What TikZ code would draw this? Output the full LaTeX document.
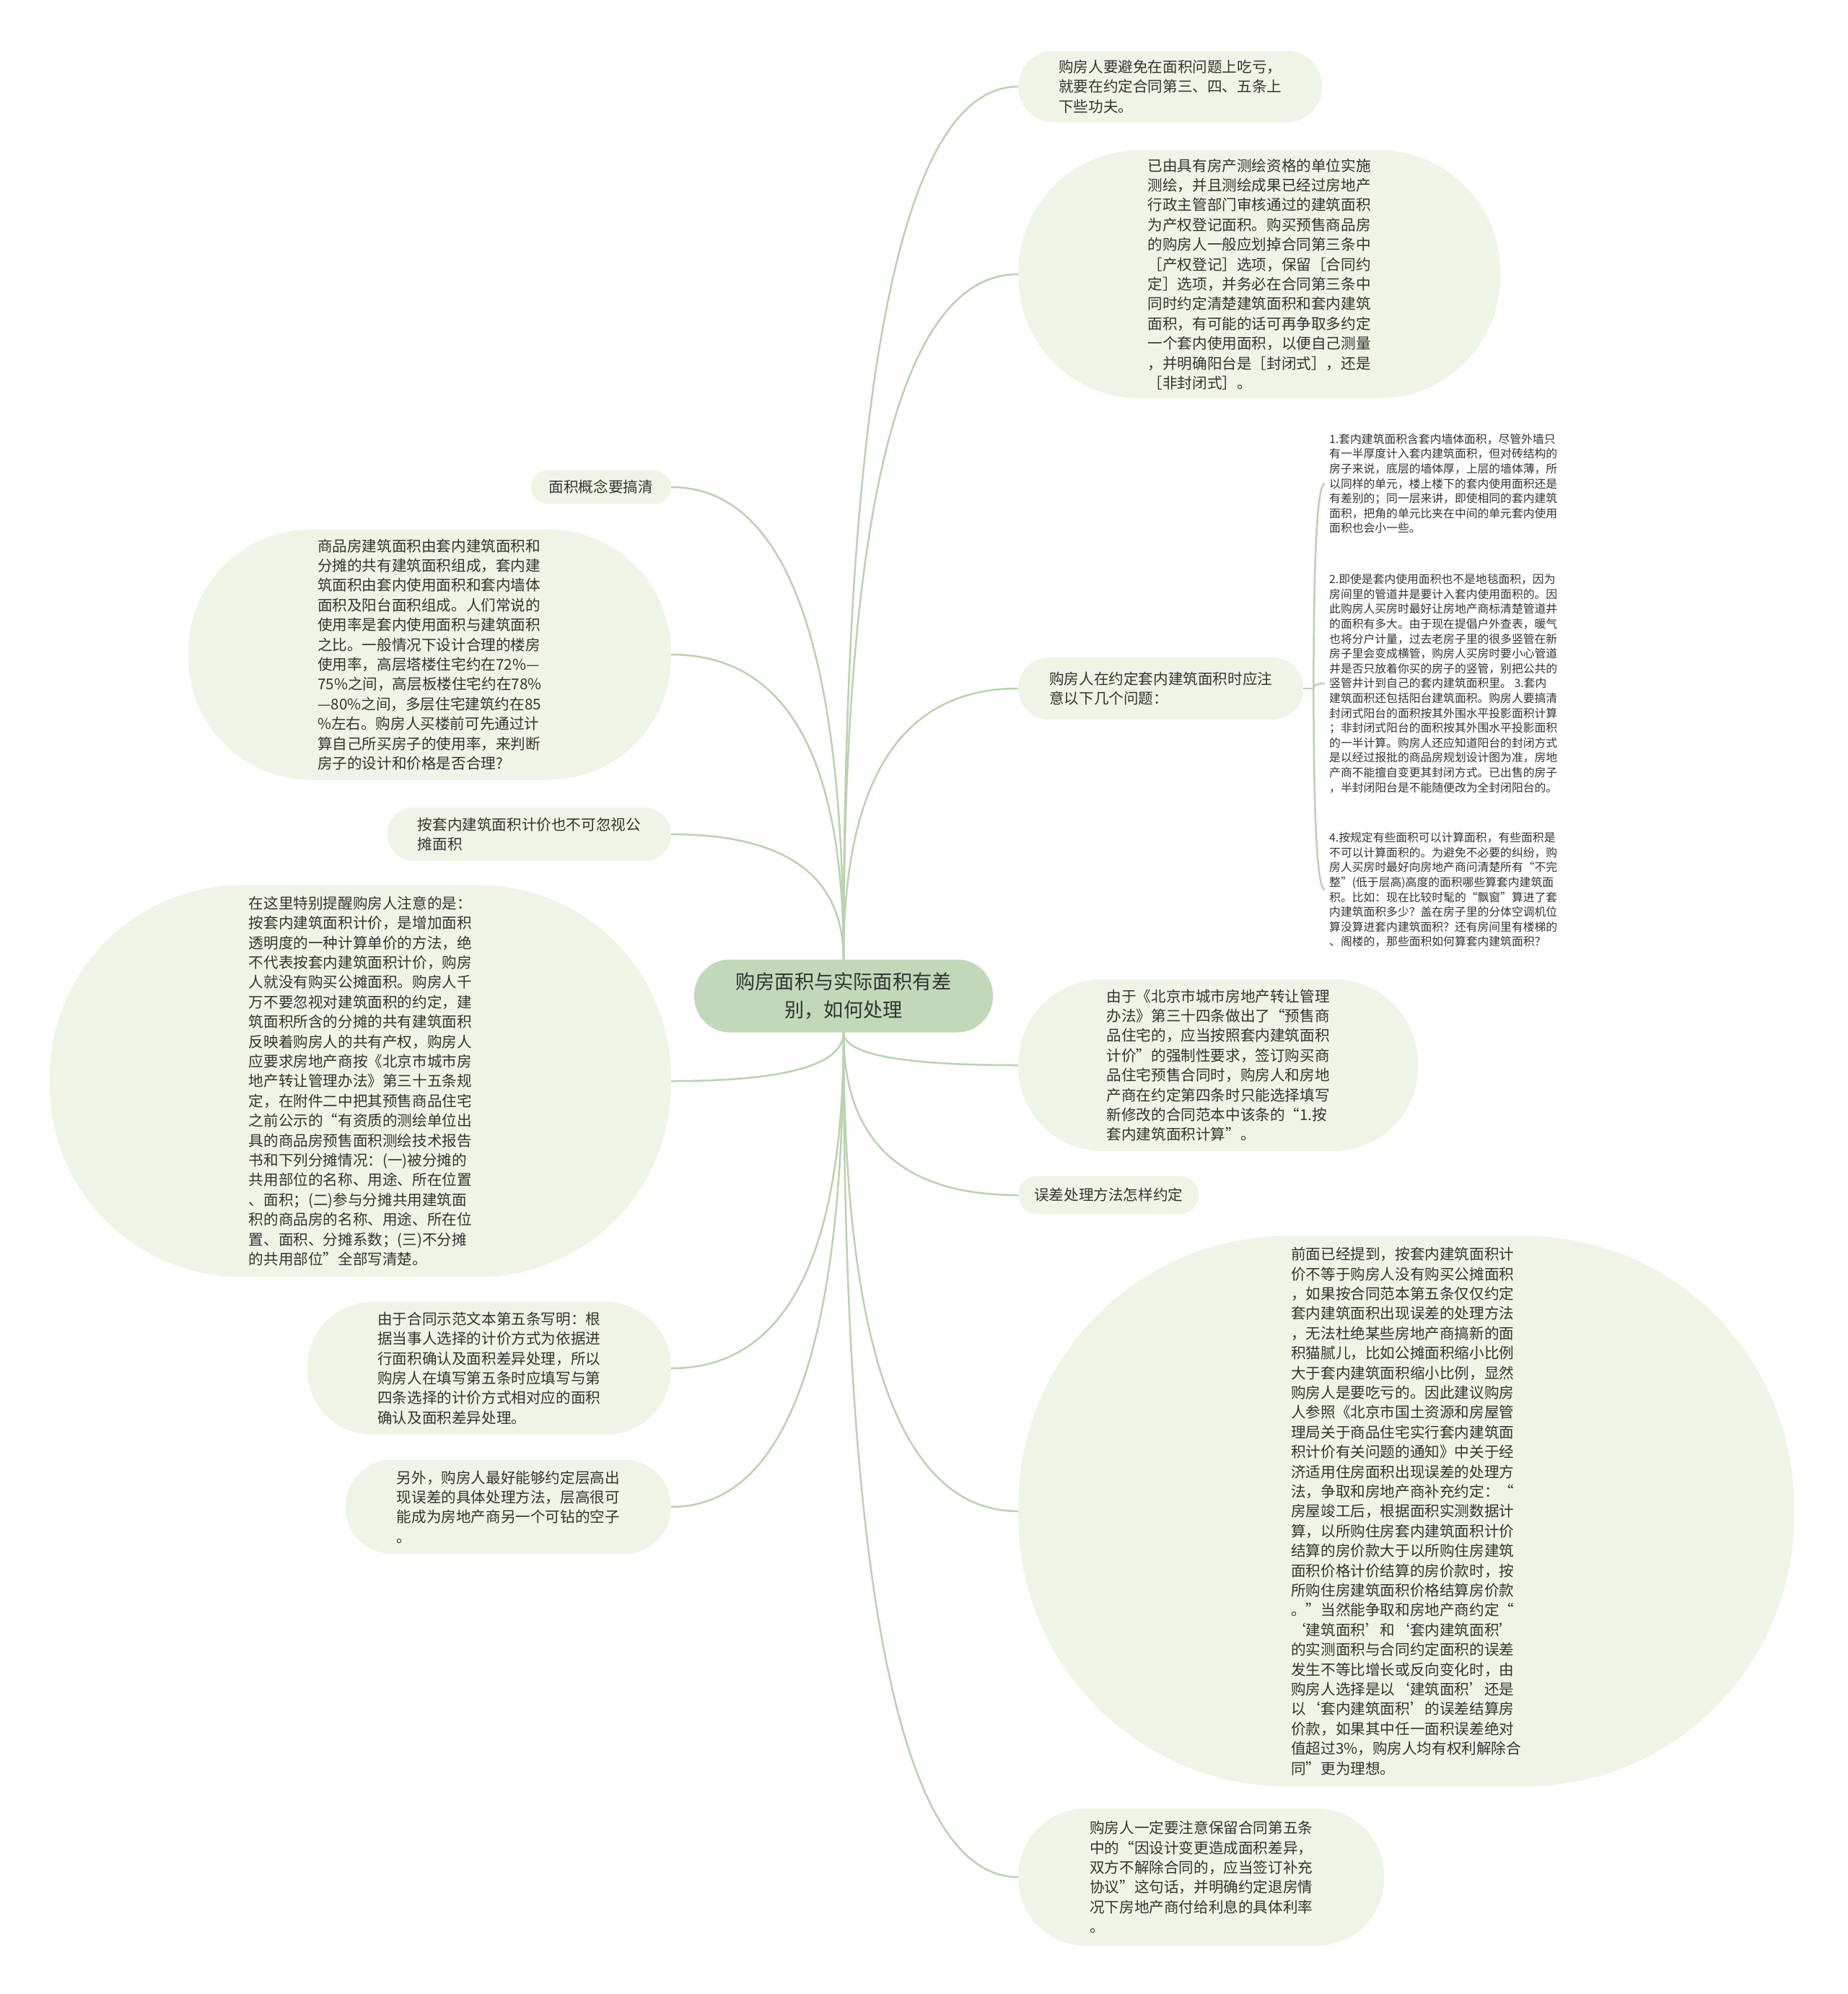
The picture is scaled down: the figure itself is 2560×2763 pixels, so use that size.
\documentclass[tikz,border=0pt]{standalone}
\usepackage{fontspec}
\newfontfamily\cjkfont{Noto Sans CJK SC}
\usetikzlibrary{calc}
\definecolor{topicfill}{RGB}{239,245,230}
\definecolor{rootfill}{RGB}{193,217,184}
\definecolor{linegreen}{RGB}{184,211,174}
\definecolor{textgray}{RGB}{51,51,51}

\begin{document}
\begin{tikzpicture}[x=1pt,y=-1pt,
  topic/.style={rectangle, fill=topicfill, text=textgray, align=left, inner sep=0pt, font=\cjkfont\fontsize{20.6}{27.4}\selectfont},
  pill/.style 2 args={minimum width=#1, minimum height=#2, rounded corners=0.49*#2},
  leaf/.style={anchor=west, text=textgray, align=left, inner sep=6pt, font=\cjkfont\fontsize{15.8}{20.6}\selectfont},
  branchline/.style={draw=linegreen, line width=2.5pt, to path={.. controls ($(\tikztostart)!2/3!(\tikztostart|-\tikztotarget)$) and ($(\tikztotarget)!2/3!(\tikztostart|-\tikztotarget)$) .. (\tikztotarget)}}]
\useasboundingbox (0,0) rectangle (2560,2763);

\node[topic, pill={414}{101}, fill=rootfill, align=center, font=\cjkfont\fontsize{27.2}{38.8}\selectfont] (root) at (1169,1380) {购房面积与实际面积有差\\别，如何处理};

\node[topic, pill={421}{99}, anchor=west] (r1) at (1411,120) {购房人要避免在面积问题上吃亏，\\就要在约定合同第三、四、五条上\\下些功夫。};
\node[topic, pill={668}{344}, anchor=west] (r2) at (1411,380) {已由具有房产测绘资格的单位实施\\测绘，并且测绘成果已经过房地产\\行政主管部门审核通过的建筑面积\\为产权登记面积。购买预售商品房\\的购房人一般应划掉合同第三条中\\［产权登记］选项，保留［合同约\\定］选项，并务必在合同第三条中\\同时约定清楚建筑面积和套内建筑\\面积，有可能的话可再争取多约定\\一个套内使用面积，以便自己测量\\，并明确阳台是［封闭式］，还是\\［非封闭式］。};
\node[topic, pill={395}{86}, anchor=west] (r3) at (1411,954) {购房人在约定套内建筑面积时应注\\意以下几个问题：};
\node[topic, pill={554}{238}, anchor=west] (r4) at (1411,1476) {由于《北京市城市房地产转让管理\\办法》第三十四条做出了“预售商\\品住宅的，应当按照套内建筑面积\\计价”的强制性要求，签订购买商\\品住宅预售合同时，购房人和房地\\产商在约定第四条时只能选择填写\\新修改的合同范本中该条的“1.按\\套内建筑面积计算”。};
\node[topic, pill={250}{53}, anchor=west] (r5) at (1411,1656) {误差处理方法怎样约定};
\node[topic, pill={1075}{763}, anchor=west] (r6) at (1411,2094) {前面已经提到，按套内建筑面积计\\价不等于购房人没有购买公摊面积\\，如果按合同范本第五条仅仅约定\\套内建筑面积出现误差的处理方法\\，无法杜绝某些房地产商搞新的面\\积猫腻儿，比如公摊面积缩小比例\\大于套内建筑面积缩小比例，显然\\购房人是要吃亏的。因此建议购房\\人参照《北京市国土资源和房屋管\\理局关于商品住宅实行套内建筑面\\积计价有关问题的通知》中关于经\\济适用住房面积出现误差的处理方\\法，争取和房地产商补充约定：“\\房屋竣工后，根据面积实测数据计\\算，以所购住房套内建筑面积计价\\结算的房价款大于以所购住房建筑\\面积价格计价结算的房价款时，按\\所购住房建筑面积价格结算房价款\\。”当然能争取和房地产商约定“\\‘建筑面积’和‘套内建筑面积’\\的实测面积与合同约定面积的误差\\发生不等比增长或反向变化时，由\\购房人选择是以‘建筑面积’还是\\以‘套内建筑面积’的误差结算房\\价款，如果其中任一面积误差绝对\\值超过3\%，购房人均有权利解除合\\同”更为理想。};
\node[topic, pill={507}{190}, anchor=west] (r7) at (1411,2601) {购房人一定要注意保留合同第五条\\中的“因设计变更造成面积差异，\\双方不解除合同的，应当签订补充\\协议”这句话，并明确约定退房情\\况下房地产商付给利息的具体利率\\。};

\node[topic, pill={194}{46}, anchor=east] (l1) at (930,675) {面积概念要搞清};
\node[topic, pill={669}{347}, anchor=east] (l2) at (930,907) {商品房建筑面积由套内建筑面积和\\分摊的共有建筑面积组成，套内建\\筑面积由套内使用面积和套内墙体\\面积及阳台面积组成。人们常说的\\使用率是套内使用面积与建筑面积\\之比。一般情况下设计合理的楼房\\使用率，高层塔楼住宅约在72\%—\\75\%之间，高层板楼住宅约在78\%\\—80\%之间，多层住宅建筑约在85\\\%左右。购房人买楼前可先通过计\\算自己所买房子的使用率，来判断\\房子的设计和价格是否合理?};
\node[topic, pill={393}{74}, anchor=east] (l3) at (930,1156) {按套内建筑面积计价也不可忽视公\\摊面积};
\node[topic, pill={861}{543}, anchor=east] (l4) at (930,1498) {在这里特别提醒购房人注意的是：\\按套内建筑面积计价，是增加面积\\透明度的一种计算单价的方法，绝\\不代表按套内建筑面积计价，购房\\人就没有购买公摊面积。购房人千\\万不要忽视对建筑面积的约定，建\\筑面积所含的分摊的共有建筑面积\\反映着购房人的共有产权，购房人\\应要求房地产商按《北京市城市房\\地产转让管理办法》第三十五条规\\定，在附件二中把其预售商品住宅\\之前公示的“有资质的测绘单位出\\具的商品房预售面积测绘技术报告\\书和下列分摊情况：(一)被分摊的\\共用部位的名称、用途、所在位置\\、面积；(二)参与分摊共用建筑面\\积的商品房的名称、用途、所在位\\置、面积、分摊系数；(三)不分摊\\的共用部位”全部写清楚。};
\node[topic, pill={504}{184}, anchor=east] (l5) at (930,1896) {由于合同示范文本第五条写明：根\\据当事人选择的计价方式为依据进\\行面积确认及面积差异处理，所以\\购房人在填写第五条时应填写与第\\四条选择的计价方式相对应的面积\\确认及面积差异处理。};
\node[topic, pill={451}{130}, anchor=east] (l6) at (930,2088) {另外，购房人最好能够约定层高出\\现误差的具体处理方法，层高很可\\能成为房地产商另一个可钻的空子\\。};

\node[leaf] (c1) at (1836,670) {1.套内建筑面积含套内墙体面积，尽管外墙只\\有一半厚度计入套内建筑面积，但对砖结构的\\房子来说，底层的墙体厚，上层的墙体薄，所\\以同样的单元，楼上楼下的套内使用面积还是\\有差别的；同一层来讲，即使相同的套内建筑\\面积，把角的单元比夹在中间的单元套内使用\\面积也会小一些。};
\node[leaf] (c2) at (1836,947) {2.即使是套内使用面积也不是地毯面积，因为\\房间里的管道井是要计入套内使用面积的。因\\此购房人买房时最好让房地产商标清楚管道井\\的面积有多大。由于现在提倡户外查表，暖气\\也将分户计量，过去老房子里的很多竖管在新\\房子里会变成横管，购房人买房时要小心管道\\井是否只放着你买的房子的竖管，别把公共的\\竖管井计到自己的套内建筑面积里。 3.套内\\建筑面积还包括阳台建筑面积。购房人要搞清\\封闭式阳台的面积按其外围水平投影面积计算\\；非封闭式阳台的面积按其外围水平投影面积\\的一半计算。购房人还应知道阳台的封闭方式\\是以经过报批的商品房规划设计图为准，房地\\产商不能擅自变更其封闭方式。已出售的房子\\，半封闭阳台是不能随便改为全封闭阳台的。};
\node[leaf] (c3) at (1836,1233) {4.按规定有些面积可以计算面积，有些面积是\\不可以计算面积的。为避免不必要的纠纷，购\\房人买房时最好向房地产商问清楚所有“不完\\整”(低于层高)高度的面积哪些算套内建筑面\\积。比如：现在比较时髦的“飘窗”算进了套\\内建筑面积多少？盖在房子里的分体空调机位\\算没算进套内建筑面积？还有房间里有楼梯的\\、阁楼的，那些面积如何算套内建筑面积？};

\foreach \n in {r1,r2,r3} \draw[branchline] (root.north) to (\n.west);
\foreach \n in {l1,l2,l3} \draw[branchline] (root.north) to (\n.east);
\foreach \n in {r4,r5,r6,r7} \draw[branchline] (root.south) to (\n.west);
\foreach \n in {l4,l5,l6} \draw[branchline] (root.south) to (\n.east);
\coordinate (fork) at ([xshift=14]r3.east);
\draw[branchline] (r3.east) -- (fork);
\foreach \n in {c1,c2,c3} \draw[branchline] (fork) to (\n.west);
\end{tikzpicture}
\end{document}
